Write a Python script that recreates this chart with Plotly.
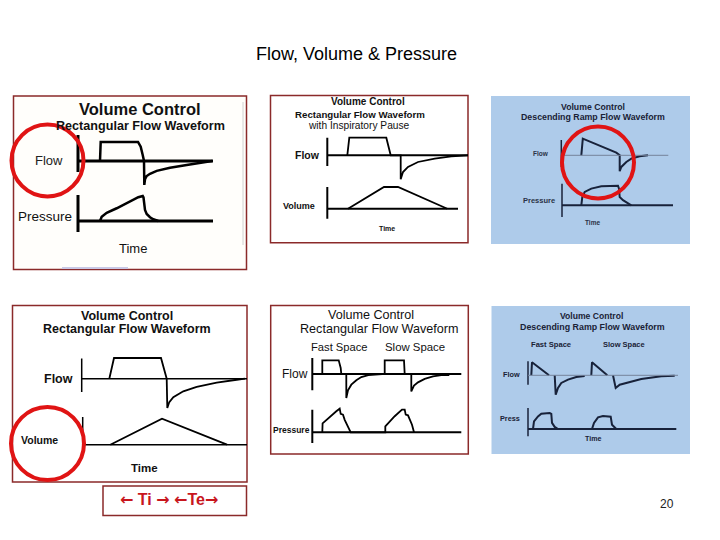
import plotly.graph_objects as go

# page is 720x540; the browser body has an 8px margin, so the figure is 712x532
PAGE_W, PAGE_H = 720, 540
OFF = 8
W, H = PAGE_W - OFF, PAGE_H - OFF

# ---------------- data (time units / normalised amplitude) ----------------
# Panel 1: Volume Control, rectangular flow (flow + pressure)
p1_flow_t = [2.2, 2.27, 6.0, 6.27, 6.47, 6.6, 6.63, 6.7, 6.87, 7.2, 7.87, 9.2, 10.87, 12.2, 13.4]
p1_flow_v = [0, 1.0, 1.0, 0.75, 0.32, 0, -1.26, -0.96, -0.79, -0.67, -0.52, -0.36, -0.21, -0.1, 0]
p1_pres_t = [2.2, 2.37, 2.87, 3.87, 6.03, 6.47, 6.55, 6.7, 6.87, 7.2, 7.53, 8.03]
p1_pres_v = [0, 0.17, 0.33, 0.51, 0.95, 1.0, 0.94, 0.44, 0.28, 0.15, 0.07, 0]

# Panel 2: rectangular flow with inspiratory pause (flow + volume)
p2_flow_t = [2.0, 2.2, 5.9, 6.34, 7.34, 7.34, 7.57, 8.07, 9.07, 10.74, 12.4, 14.07]
p2_flow_v = [0, 1.0, 1.0, 0, 0, -1.36, -0.95, -0.66, -0.38, -0.19, -0.06, 0]
p2_vol_t = [2.07, 5.67, 7.07, 12.0]
p2_vol_v = [0, 1.0, 1.0, 0]

# Panel 3: descending ramp flow (flow + pressure)
p3_flow_t = [2.0, 2.15, 5.5, 5.84, 5.84, 6.0, 6.5, 7.0, 7.84, 8.67]
p3_flow_v = [0, 1.0, 0.16, 0, -0.96, -0.70, -0.40, -0.20, -0.06, 0]
p3_pres_t = [1.93, 2.03, 2.27, 2.93, 3.93, 4.93, 5.6, 5.7, 5.77, 6.1, 6.6, 6.93]
p3_pres_v = [0, 0.42, 0.68, 0.85, 0.97, 1.0, 1.0, 0.85, 0.42, 0.26, 0.08, 0]

# Panel 4: rectangular flow (flow + volume)
p4_flow_t = [2.76, 3.23, 7.93, 8.5, 8.56, 8.76, 9.16, 10.16, 11.5, 13.5, 15.5, 16.33]
p4_flow_v = [0, 1.0, 1.0, 0, -1.42, -1.13, -0.89, -0.61, -0.40, -0.19, -0.05, 0]
p4_vol_t = [2.76, 7.93, 14.43]
p4_vol_v = [0, 1.0, 0]

# Panel 5: rectangular flow, fast vs slow space (flow + pressure)
p5_flow_t = [1.0, 1.0, 2.64, 2.84, 2.9, 3.4, 3.4, 3.57, 3.9, 4.4, 4.9, 5.4, 5.6,
             7.24, 7.24, 9.17, 9.24, 9.9, 9.9, 10.17, 10.57, 11.24, 12.07, 12.9, 13.7]
p5_flow_v = [0, 1.0, 1.0, 0.44, 0, 0, -1.75, -1.19, -0.78, -0.46, -0.22, -0.08, -0.08,
             0, 1.0, 1.0, 0, 0, -1.27, -0.85, -0.61, -0.36, -0.17, -0.08, -0.08]
p5_pres_t = [1.0, 1.03, 2.4, 2.74, 2.84, 3.07, 3.24, 3.57, 3.84,
             7.3, 7.3, 8.24, 8.97, 9.24, 9.34, 9.57, 9.74, 9.97, 10.17]
p5_pres_v = [0, 0.38, 0.89, 1.0, 0.78, 0.75, 0.53, 0.25, 0,
             0, 0.25, 0.68, 0.96, 0.96, 0.75, 0.72, 0.53, 0.32, 0]

# Panel 6: descending ramp, fast vs slow space (flow + pressure)
p6_flow_t = [0.33, 0.4, 2.1, None, 2.67, 2.77, 3.0, 3.33, 4.0, 4.83, 5.67, None,
             6.33, 6.4, 7.93, None, 8.5, 8.77, 9.17, 10.0, 11.33, 13.33, 14.67]
p6_flow_v = [0, 1.0, 0, None, 0, -1.5, -0.97, -0.59, -0.33, -0.13, -0.06, None,
             0, 1.0, 0, None, 0, -0.97, -0.72, -0.54, -0.28, -0.08, -0.03]
p6_pres_t = [0.5, 0.6, 1.0, 1.33, 2.17, 2.33, 2.4, 2.67, 3.0,
             6.4, 6.6, 7.0, 7.5, 8.27, 8.4, 8.67, 8.83]
p6_pres_v = [0, 0.48, 0.79, 0.96, 1.0, 0.94, 0.38, 0.13, 0,
             0, 0.38, 0.73, 0.81, 0.77, 0.27, 0.06, 0]

# ---------------- layout helpers ----------------
FONT = "Arial, Liberation Sans, sans-serif"
BLK = "#000000"
NAVY = "#18223a"
FRAME = "#8b2a2a"
BLUE = "#aecbea"

def px(x):
    return (x - OFF) / W

def py(y):
    return 1 - (y - OFF) / H

# subplot specs: pixel origin of axis, baseline pixel, pixels per unit
subplots = [
    dict(t=p1_flow_t, v=p1_flow_v, x0=78, base=161, sy=19, xmax=14, yr=(-1.5, 1.5),
         vline=(-0.58, 1.37), bend=13.5, col=BLK, lw=2.5, aw=3, bw=3, bcol=BLK),
    dict(t=p1_pres_t, v=p1_pres_v, x0=78, base=221, sy=25, xmax=14, yr=(-0.5, 1.15),
         vline=(-0.44, 1.04), bend=13.5, col=BLK, lw=2.5, aw=3, bw=3, bcol=BLK),
    dict(t=p2_flow_t, v=p2_flow_v, x0=327.3, base=155.3, sy=17.6, xmax=14.1, yr=(-1.5, 1.15),
         vline=(-0.61, 1.0), bend=14.07, col=BLK, lw=1.8, aw=2, bw=2, bcol=BLK),
    dict(t=p2_vol_t, v=p2_vol_v, x0=327.3, base=208.7, sy=21.7, xmax=14.1, yr=(-0.55, 1.15),
         vline=(-0.46, 1.0), bend=13.07, col=BLK, lw=1.8, aw=2, bw=2, bcol=BLK),
    dict(t=p3_flow_t, v=p3_flow_v, x0=561.3, base=155.3, sy=16.6, xmax=11.5, yr=(-1.1, 1.15),
         vline=(-0.70, 0.92), bend=10.7, col=NAVY, lw=2, aw=1.5, bw=1, bcol="#75839a"),
    dict(t=p3_pres_t, v=p3_pres_v, x0=562, base=205.3, sy=19.6, xmax=11.5, yr=(-0.7, 1.2),
         vline=(-0.6, 1.1), bend=11.1, col=NAVY, lw=2, aw=1.5, bw=2, bcol=NAVY),
    dict(t=p4_flow_t, v=p4_flow_v, x0=81.7, base=378.7, sy=20.7, xmax=16.6, yr=(-1.55, 1.1),
         vline=(-0.64, 0.97), bend=16.53, col=BLK, lw=1.8, aw=1.5, bw=1.5, bcol=BLK),
    dict(t=p4_vol_t, v=p4_vol_v, x0=82.7, base=444.7, sy=26, xmax=16.5, yr=(-0.15, 1.15),
         vline=(0, 1.07), bend=16.43, col=BLK, lw=1.8, aw=1.5, bw=1.5, bcol=BLK),
    dict(t=p5_flow_t, v=p5_flow_v, x0=312.3, base=374, sy=13.7, xmax=15, yr=(-1.9, 1.3),
         vline=(-1.19, 1.17), bend=14.9, col=BLK, lw=1.8, aw=2, bw=2, bcol=BLK),
    dict(t=p5_pres_t, v=p5_pres_v, x0=312.3, base=432.3, sy=23.6, xmax=15, yr=(-0.5, 1.1),
         vline=(-0.45, 0.96), bend=14.9, col=BLK, lw=1.8, aw=2, bw=2, bcol=BLK),
    dict(t=p6_flow_t, v=p6_flow_v, x0=528, base=375.3, sy=13, xmax=15.2, yr=(-1.65, 1.2),
         vline=(-0.72, 1.08), bend=15.0, col=NAVY, lw=2, aw=1.5, bw=1, bcol="#75839a"),
    dict(t=p6_pres_t, v=p6_pres_v, x0=528, base=429, sy=16, xmax=15.2, yr=(-0.55, 1.4),
         vline=(-0.46, 1.31), bend=14.83, col=NAVY, lw=2, aw=1.5, bw=2, bcol=NAVY),
]

fig = go.Figure()
shapes = []
XMIN = -0.4  # small margin left of the axis line so it is not clipped

# panel backgrounds / frames (drawn below)
panels = [
    dict(x0=13.5, x1=246.5, y0=96, y1=269.5, fill="#fffefb", line=FRAME),
    dict(x0=270.5, x1=468, y0=95.5, y1=242.7, fill="#ffffff", line=FRAME),
    dict(x0=491, x1=690, y0=96, y1=244, fill=BLUE, line=None),
    dict(x0=12.5, x1=247, y0=305.5, y1=482, fill="#ffffff", line=FRAME),
    dict(x0=270.7, x1=468.3, y0=305.5, y1=454, fill="#ffffff", line=FRAME),
    dict(x0=491.5, x1=690, y0=306, y1=454, fill=BLUE, line=None),
    dict(x0=103, x1=246.5, y0=486, y1=515.5, fill="#ffffff", line=FRAME),
]
for p in panels:
    shapes.append(dict(type="rect", xref="paper", yref="paper", layer="below",
                       x0=px(p["x0"]), x1=px(p["x1"]), y0=py(p["y1"]), y1=py(p["y0"]),
                       fillcolor=p["fill"],
                       line=dict(color=p["line"] or p["fill"], width=1.5 if p["line"] else 0)))
# faint scan artefacts in panel 1
shapes.append(dict(type="line", xref="paper", yref="paper", layer="below",
                   x0=px(243), x1=px(243), y0=py(245), y1=py(102),
                   line=dict(color="#d2d2d2", width=1)))
shapes.append(dict(type="line", xref="paper", yref="paper", layer="below",
                   x0=px(62), x1=px(128), y0=py(268), y1=py(268),
                   line=dict(color="#c9c9e6", width=2)))

for i, s in enumerate(subplots, start=1):
    sx = 10.0
    left = s["x0"] + XMIN * sx
    right = s["x0"] + s["xmax"] * sx
    top = s["base"] - s["yr"][1] * s["sy"]
    bottom = s["base"] - s["yr"][0] * s["sy"]
    xa = "xaxis" if i == 1 else f"xaxis{i}"
    ya = "yaxis" if i == 1 else f"yaxis{i}"
    xr = "x" if i == 1 else f"x{i}"
    yr = "y" if i == 1 else f"y{i}"
    fig.update_layout({
        xa: dict(domain=[px(left), px(right)], range=[XMIN, s["xmax"]], visible=False,
                 anchor=yr, fixedrange=True),
        ya: dict(domain=[py(bottom), py(top)], range=list(s["yr"]), visible=False,
                 anchor=xr, fixedrange=True),
    })
    # axis line (vertical) and baseline (horizontal)
    shapes.append(dict(type="line", xref=xr, yref=yr, x0=0, x1=0,
                       y0=s["vline"][0], y1=s["vline"][1],
                       line=dict(color=s["col"], width=s["aw"])))
    shapes.append(dict(type="line", xref=xr, yref=yr, x0=0, x1=s["bend"], y0=0, y1=0,
                       line=dict(color=s["bcol"], width=s["bw"])))
    fig.add_trace(go.Scatter(x=s["t"], y=s["v"], mode="lines", xaxis=xr, yaxis=yr,
                             line=dict(color=s["col"], width=s["lw"]),
                             connectgaps=False, hoverinfo="skip", showlegend=False))

# red highlight circles
for cx, cy, r in [(47.5, 160.5, 36), (598, 162.5, 36), (47.5, 443.5, 36.5)]:
    shapes.append(dict(type="circle", xref="paper", yref="paper", layer="above",
                       x0=px(cx - r), x1=px(cx + r), y0=py(cy + r), y1=py(cy - r),
                       line=dict(color="#e01414", width=4)))

annotations = []

def txt(s, x, y, size, color="#000000", bold=False):
    annotations.append(dict(text=f"<b>{s}</b>" if bold else s, x=px(x), y=py(y),
                            xref="paper", yref="paper", showarrow=False,
                            xanchor="center", yanchor="middle",
                            font=dict(family=FONT, size=size, color=color)))

# page title and number
txt("Flow, Volume &amp; Pressure", 356, 54, 18)
txt("20", 667, 504, 12, "#222222")

# panel 1
txt("Volume Control", 140, 109.5, 16.5, "#111111", True)
txt("Rectangular Flow Waveform", 140, 126, 12.6, "#111111", True)
txt("Flow", 48.5, 160, 13, "#222222")
txt("Pressure", 44.5, 217, 13.5, "#111111")
txt("Time", 132.5, 248, 13, "#111111")

# panel 2
txt("Volume Control", 368, 102, 10, "#111111", True)
txt("Rectangular Flow Waveform", 359.7, 115, 9.7, "#111111", True)
txt("with Inspiratory Pause", 359.3, 125.5, 10.2, "#111111")
txt("Flow", 307.5, 154.7, 10.5, "#111111", True)
txt("Volume", 298.5, 206, 9, "#111111", True)
txt("Time", 386.5, 228.7, 7, "#111111", True)

# panel 3
txt("Volume Control", 593, 107, 8.7, "#1a2236", True)
txt("Descending Ramp Flow Waveform", 592.7, 117.5, 8.8, "#1a2236", True)
txt("Flow", 541, 153.7, 6.5, "#2a3246", True)
txt("Pressure", 538.5, 201, 7.5, "#2a3246", True)
txt("Time", 592, 222.7, 6.5, "#2a3246", True)

# panel 4
txt("Volume Control", 126.7, 316, 12.5, "#111111", True)
txt("Rectangular Flow Waveform", 127, 329, 12.5, "#111111", True)
txt("Flow", 59, 379.3, 12.5, "#111111", True)
txt("Volume", 39, 440, 10.5, "#111111", True)
txt("Time", 144.3, 467.7, 11.5, "#111111", True)

# panel 5
txt("Volume Control", 371.3, 315, 12.6, "#111111")
txt("Rectangular Flow Waveform", 379, 329, 12.6, "#111111")
txt("Fast Space", 339.7, 346.5, 11.2, "#111111")
txt("Slow Space", 414.7, 346.5, 11.4, "#111111")
txt("Flow", 295, 374, 12, "#111111")
txt("Pressure", 291.3, 430.3, 8.5, "#111111", True)

# panel 6
txt("Volume Control", 591.5, 316.3, 8.6, "#1a2236", True)
txt("Descending Ramp Flow Waveform", 592.2, 327.3, 8.85, "#1a2236", True)
txt("Fast Space", 550.7, 344.7, 7.6, "#1a2236", True)
txt("Slow Space", 623.8, 344.7, 7.5, "#1a2236", True)
txt("Flow", 511.3, 374, 7.3, "#1a2236", True)
txt("Press", 509.7, 418, 7.3, "#1a2236", True)
txt("Time", 593, 439, 7.1, "#1a2236", True)

# Ti / Te box text (arrows in a font with wider arrow glyphs)
LA = '<span style="font-family:DejaVu Sans">\u2190</span>'
RA = '<span style="font-family:DejaVu Sans">\u2192</span>'
txt(f"{LA} Ti {RA} {LA}Te{RA}", 169, 499.5, 16, "#c8161d", True)

fig.update_layout(width=W, height=H, margin=dict(l=0, r=0, t=0, b=0),
                  paper_bgcolor="#ffffff", plot_bgcolor="rgba(0,0,0,0)",
                  showlegend=False, shapes=shapes, annotations=annotations)

fig.write_html("out.html")
